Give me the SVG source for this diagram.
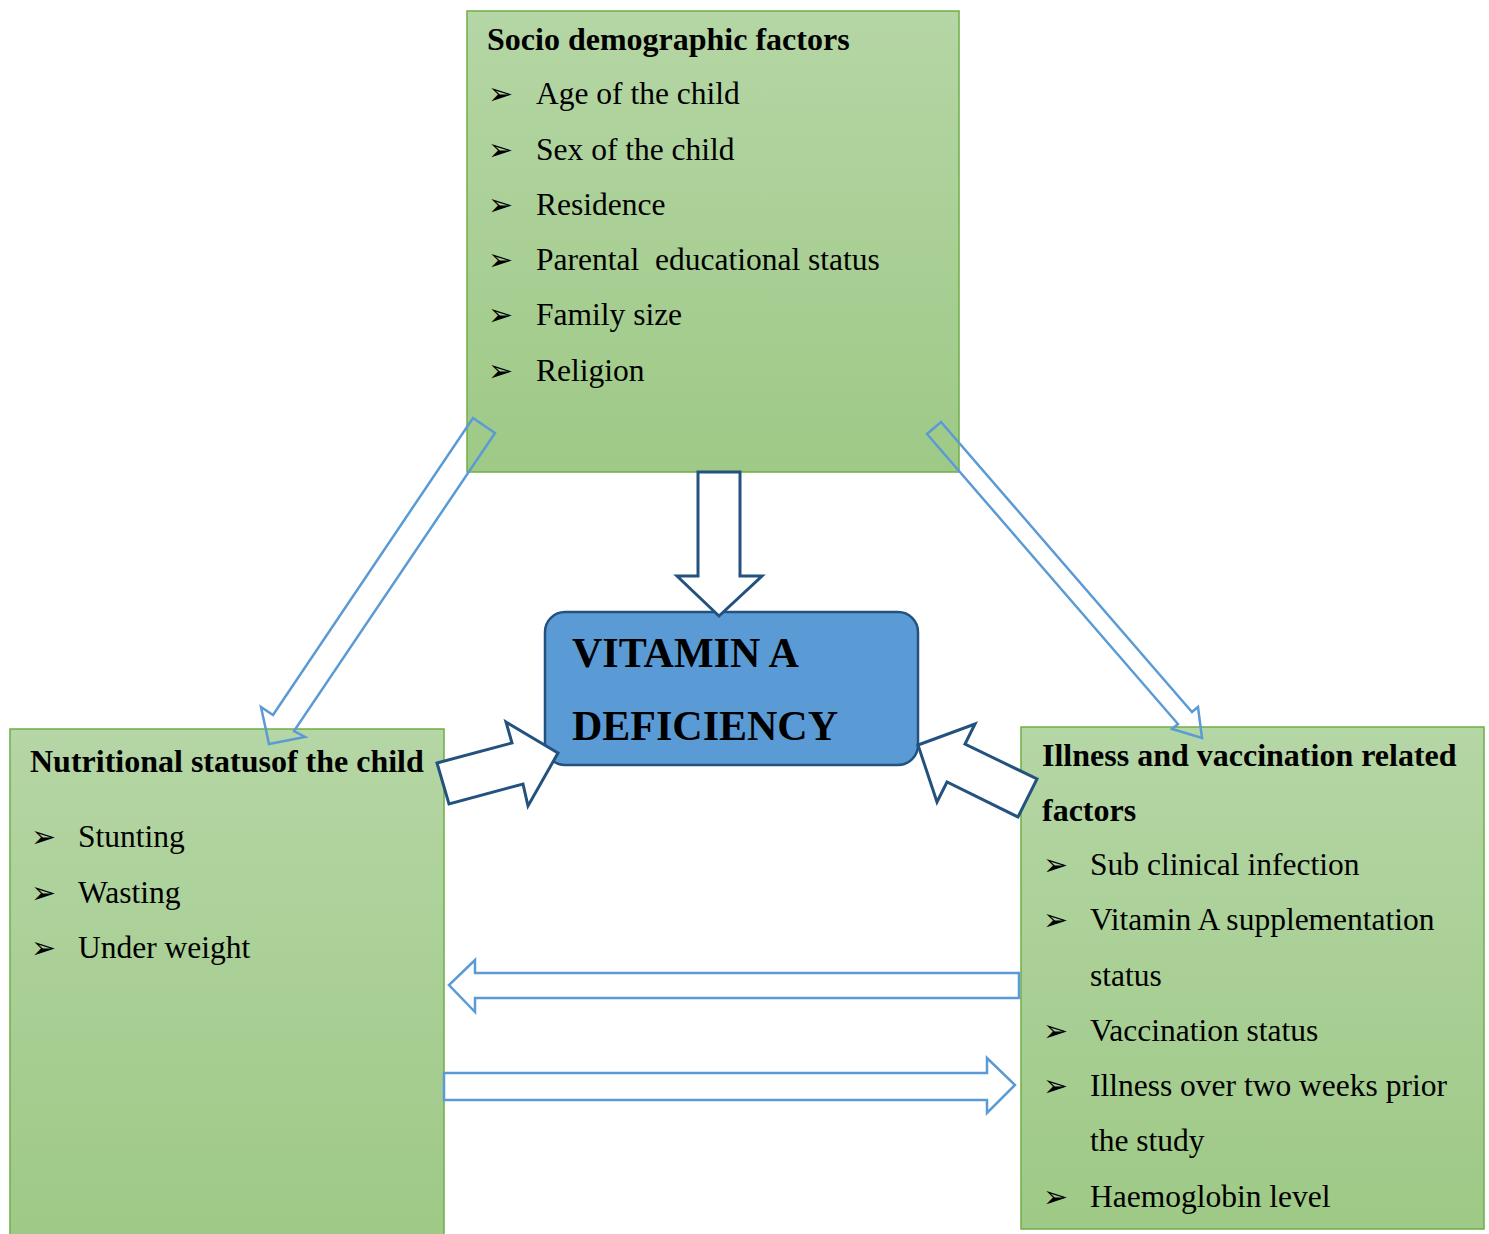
<svg xmlns="http://www.w3.org/2000/svg" width="1489" height="1234" viewBox="0 0 1489 1234">
<style>
.box{stroke:#70ad47;stroke-width:1.5}
.t{font-family:"Liberation Serif","Times New Roman",serif;font-size:31.5px;fill:#000}
.b{font-weight:bold;font-size:32px}
.bul{font-family:"DejaVu Sans",sans-serif;font-size:30px;fill:#000}
.la{fill:none;stroke:#5b9bd5;stroke-width:2.5;stroke-linejoin:miter}
.lw{fill:#fff;stroke:#5b9bd5;stroke-width:2.5}
.da{fill:#fff;stroke:#24527f;stroke-width:3;stroke-linejoin:miter}
.ct{font-family:"Liberation Serif","Times New Roman",serif;font-size:42px;font-weight:bold;fill:#000}
</style>
<defs>
<linearGradient id="g" x1="0" y1="0" x2="0" y2="1">
<stop offset="0" stop-color="#b5d6a5"/>
<stop offset="1" stop-color="#9ec986"/>
</linearGradient>
</defs>
<rect width="1489" height="1234" fill="#fff"/>
<g id="socio">
<rect class="box" x="467" y="11" width="492" height="461" fill="url(#g)"/>
<text class="t b" x="487" y="50">Socio demographic factors</text>
<text class="bul" x="488" y="104">➢</text><text class="t" x="536" y="104">Age of the child</text>
<text class="bul" x="488" y="160">➢</text><text class="t" x="536" y="160">Sex of the child</text>
<text class="bul" x="488" y="215">➢</text><text class="t" x="536" y="215">Residence</text>
<text class="bul" x="488" y="270">➢</text><text class="t" x="536" y="270" xml:space="preserve">Parental  educational status</text>
<text class="bul" x="488" y="325">➢</text><text class="t" x="536" y="325">Family size</text>
<text class="bul" x="488" y="381">➢</text><text class="t" x="536" y="381">Religion</text>
</g>
<g id="nutritional">
<rect class="box" x="10" y="729" width="434" height="510" fill="url(#g)"/>
<text class="t b" x="30" y="772">Nutritional statusof the child</text>
<text class="bul" x="31" y="847">➢</text><text class="t" x="78" y="847">Stunting</text>
<text class="bul" x="31" y="903">➢</text><text class="t" x="78" y="903">Wasting</text>
<text class="bul" x="31" y="958">➢</text><text class="t" x="78" y="958">Under weight</text>
</g>
<g id="illness">
<rect class="box" x="1021" y="727" width="463" height="502" fill="url(#g)"/>
<text class="t b" x="1042" y="766">Illness and vaccination related</text>
<text class="t b" x="1042" y="821">factors</text>
<text class="bul" x="1043" y="875">➢</text><text class="t" x="1090" y="875">Sub clinical infection</text>
<text class="bul" x="1043" y="930">➢</text><text class="t" x="1090" y="930">Vitamin A supplementation</text>
<text class="t" x="1090" y="986">status</text>
<text class="bul" x="1043" y="1041">➢</text><text class="t" x="1090" y="1041">Vaccination status</text>
<text class="bul" x="1043" y="1096">➢</text><text class="t" x="1090" y="1096">Illness over two weeks prior</text>
<text class="t" x="1090" y="1151">the study</text>
<text class="bul" x="1043" y="1207">➢</text><text class="t" x="1090" y="1207">Haemoglobin level</text>
</g>
<g id="vad">
<rect x="545" y="612" width="373" height="153" rx="20" fill="#5b9bd5" stroke="#24527f" stroke-width="2.5"/>
<text class="ct" x="572" y="667">VITAMIN A</text>
<text class="ct" x="572" y="740">DEFICIENCY</text>
</g>
<g id="connectors">
<polygon class="la" points="473,418 495,433 294,731 305,737 269,744 261,707 273,715"/>
<polygon class="la" points="927,434 941,422 1192,712 1198,707 1202,738 1172,729 1178,724"/>
<polygon class="da" points="698,472 740,472 740,576 762,576 719,616 677,576 698,576"/>
<polygon class="da" points="437,763 512,743 506,722 558,753 528,806 523,784 449,804"/>
<polygon class="da" points="918,745 975,724 965,744 1037,779 1018,817 947,782 937,802"/>
<polygon class="lw" points="1019,973 475,973 475,960 449,985 475,1012 475,998 1019,998"/>
<polygon class="lw" points="444,1073 987,1073 987,1058 1015,1085 987,1113 987,1100 444,1100"/>
</g>
</svg>
